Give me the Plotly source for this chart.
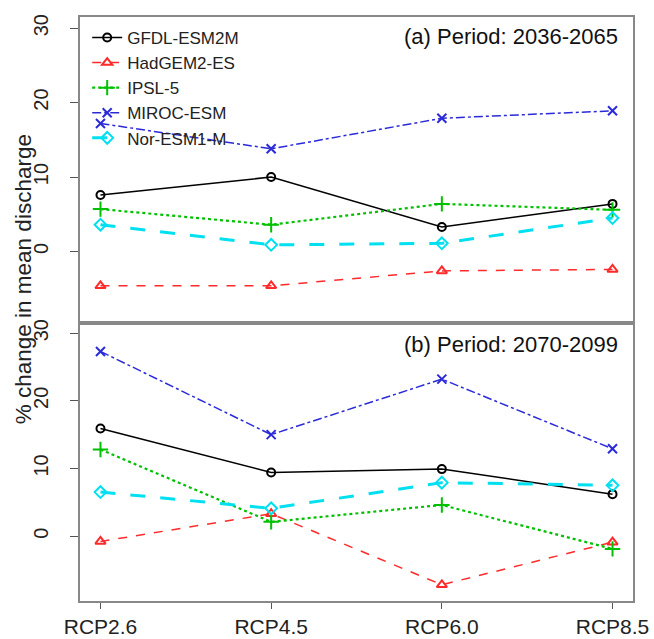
import plotly.graph_objects as go

scenarios = ["RCP2.6", "RCP4.5", "RCP6.0", "RCP8.5"]
models = ["GFDL-ESM2M", "HadGEM2-ES", "IPSL-5", "MIROC-ESM", "Nor-ESM1-M"]

# Panel (a): Period 2036-2065
gfdl_a = [7.6, 10.0, 3.3, 6.4]
had_a = [-4.6, -4.6, -2.6, -2.4]
ipsl_a = [5.7, 3.6, 6.4, 5.6]
miroc_a = [17.2, 13.8, 17.9, 18.9]
nor_a = [3.6, 0.9, 1.1, 4.5]

# Panel (b): Period 2070-2099
gfdl_b = [15.9, 9.4, 9.9, 6.2]
had_b = [-0.8, 3.3, -7.2, -0.9]
ipsl_b = [12.8, 2.1, 4.6, -1.9]
miroc_b = [27.3, 15.0, 23.2, 12.9]
nor_b = [6.5, 4.1, 7.9, 7.5]

yticks = [0, 10, 20, 30]

colors = ["#000000", "#ff2a2a", "#00c000", "#2a2ad8", "#00e0f0"]
dashes = ["solid", "dash", "dot", "dashdot", "longdash"]
widths = [1.5, 1.5, 2.2, 1.5, 3]
symbols = ["circle-open", "triangle-up-open", "cross-thin-open", "x-thin-open", "diamond-open"]
msizes = [8, 9, 11, 9, 9]

data_a = [gfdl_a, had_a, ipsl_a, miroc_a, nor_a]
data_b = [gfdl_b, had_b, ipsl_b, miroc_b, nor_b]

xpos = [1, 2, 3, 4]

fig = go.Figure()
for i, m in enumerate(models):
    for vals, xa, ya, show in [(data_a[i], "x", "y", True), (data_b[i], "x2", "y2", False)]:
        fig.add_trace(go.Scatter(
            x=xpos, y=vals, xaxis=xa, yaxis=ya, name=m, showlegend=show,
            mode="lines+markers",
            line=dict(color=colors[i], dash=dashes[i], width=widths[i]),
            marker=dict(symbol=symbols[i], size=msizes[i], color=colors[i],
                        line=dict(color=colors[i], width=2)),
        ))

base = dict(
    showgrid=False, zeroline=False, showline=True, linecolor="#888888", linewidth=1.5,
    mirror=True, tickcolor="#555555", automargin=False,
)
yfont = dict(family="Liberation Sans, Arial", size=20, color="#222222")
xfont = dict(family="Liberation Sans, Arial", size=21, color="#222222")

ylo, yhi = -9.6, 31.5
fig.update_layout(
    width=654, height=639,
    margin=dict(l=80, r=21, t=17, b=38, autoexpand=False),
    plot_bgcolor="white", paper_bgcolor="white",
    font=dict(family="Liberation Sans, Arial", color="#222222"),
    xaxis=dict(domain=[0, 1], anchor="y", range=[0.88, 4.12], tickvals=xpos,
               showticklabels=False, ticks="", **base),
    yaxis=dict(domain=[0.476, 1], anchor="x", range=[ylo, yhi], tickvals=yticks,
               tickangle=-90, ticks="outside", ticklen=8, ticklabelstandoff=14,
               tickfont=yfont, **base),
    xaxis2=dict(domain=[0, 1], anchor="y2", range=[0.88, 4.12], tickvals=xpos,
                ticktext=scenarios, ticks="outside", ticklen=6, ticklabelstandoff=0,
                tickfont=xfont, **base),
    yaxis2=dict(domain=[0, 0.476], anchor="x2", range=[ylo, yhi], tickvals=yticks,
                tickangle=-90, ticks="outside", ticklen=8, ticklabelstandoff=14,
                tickfont=yfont, **base),
    legend=dict(x=0.013, y=0.995, xanchor="left", yanchor="top", bgcolor="rgba(0,0,0,0)",
                font=dict(family="Liberation Sans, Arial", size=17, color="#222222"),
                tracegroupgap=0, itemwidth=30),
    annotations=[
        dict(text="(a) Period: 2036-2065", x=0.976, y=0.966, xref="paper", yref="paper",
             xanchor="right", yanchor="middle", showarrow=False,
             font=dict(size=22, color="#111111")),
        dict(text="(b) Period: 2070-2099", x=0.976, y=0.440, xref="paper", yref="paper",
             xanchor="right", yanchor="middle", showarrow=False,
             font=dict(size=22, color="#111111")),
        dict(text="% change in mean discharge", x=-0.103, y=0.551, xref="paper", yref="paper",
             xanchor="center", yanchor="middle", showarrow=False, textangle=-90,
             font=dict(size=22.5, color="#222222")),
    ],
)

fig.write_html("out.html", config={"displayModeBar": False},
               post_script="document.body.style.margin='0';document.body.style.overflow='hidden';")
